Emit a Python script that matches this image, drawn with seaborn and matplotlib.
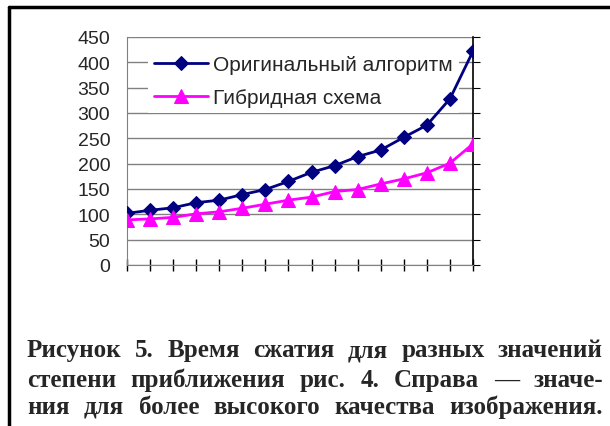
import matplotlib
matplotlib.use("Agg")
import matplotlib.pyplot as plt
from matplotlib.lines import Line2D
import pandas as pd
import seaborn as sns

# values
steps = list(range(1, 17))
original = [102, 108, 113, 123, 128, 139, 149, 165, 183, 196, 214, 227, 252, 276, 328, 422]
hybrid = [89, 91, 94, 101, 105, 112, 120, 128, 134, 145, 149, 160, 170, 182, 201, 239]
series_names = ["Оригинальный алгоритм", "Гибридная схема"]
y_ticks = list(range(0, 451, 50))
caption = [
    "Рисунок 5. Время сжатия для разных значений",
    "степени приближения рис. 4. Справа — значе-",
    "ния для более высокого качества изображения.",
]

data = pd.DataFrame({"step": steps, "orig": original, "hyb": hybrid})

sns.set_style("white")
plt.rcParams["font.family"] = ["Liberation Sans", "DejaVu Sans"]

fig = plt.figure(figsize=(6.1, 4.27), dpi=100)
ax = fig.add_axes([127 / 610, 1 - 266 / 427, 346 / 610, 228 / 427])

sns.lineplot(data=data, x="step", y="orig", ax=ax, color="#000080", lw=2,
             marker="D", markersize=7.5, markeredgecolor="#000080",
             label=series_names[0], zorder=4)
sns.lineplot(data=data, x="step", y="hyb", ax=ax, color="#ff00ff", lw=2,
             marker="^", markersize=10, markeredgecolor="#ff00ff",
             label=series_names[1], zorder=4)

ax.set_xlim(steps[0], steps[-1])
ax.set_ylim(0, 450)
ax.set_yticks(y_ticks)
ax.set_xticks(steps)
ax.set_xticklabels([])
ax.set_xlabel("")
ax.set_ylabel("")
ax.yaxis.grid(True, color="#808080", lw=1)
ax.set_axisbelow(True)
ax.spines["top"].set_visible(False)
ax.spines["left"].set_color("#808080")
ax.spines["bottom"].set_color("#808080")
ax.spines["right"].set_color("black")
ax.spines["right"].set_linewidth(1.2)
ax.tick_params(axis="y", left=False, right=True, direction="out", length=5,
               color="black", labelsize=14, pad=7)
ax.tick_params(axis="x", bottom=True, direction="inout", length=9,
               color="black", width=1)

leg = ax.legend(loc="upper left", bbox_to_anchor=(0.03, 0.995), fontsize=15,
                frameon=True, framealpha=1, edgecolor="white", fancybox=False,
                handlelength=2.6, handletextpad=0.25, labelspacing=0.68,
                borderpad=0.3)
leg.get_frame().set_linewidth(0)
leg.set_zorder(3)

# outer frame of the figure block
fig.add_artist(Line2D([9 / 610, 9 / 610], [0, 1 - 8 / 427], color="black", lw=2.5))
fig.add_artist(Line2D([9 / 610, 1], [1 - 8 / 427, 1 - 8 / 427], color="black", lw=2.5))

# justified caption
renderer = fig.canvas.get_renderer()
left_px, right_px = 27, 603
baselines = [357, 387, 414]
for line, base in zip(caption, baselines):
    words = line.split(" ")
    texts = []
    widths = []
    for w in words:
        t = fig.text(0, 0, w, fontfamily="Liberation Serif", fontweight="bold",
                     fontsize=18, va="baseline", ha="left")
        texts.append(t)
        widths.append(t.get_window_extent(renderer).width)
    gap = (right_px - left_px - sum(widths)) / (len(words) - 1)
    x = left_px
    for t, wd in zip(texts, widths):
        t.set_position((x / 610, 1 - base / 427))
        x += wd + gap

fig.savefig("out.png", dpi=100)
